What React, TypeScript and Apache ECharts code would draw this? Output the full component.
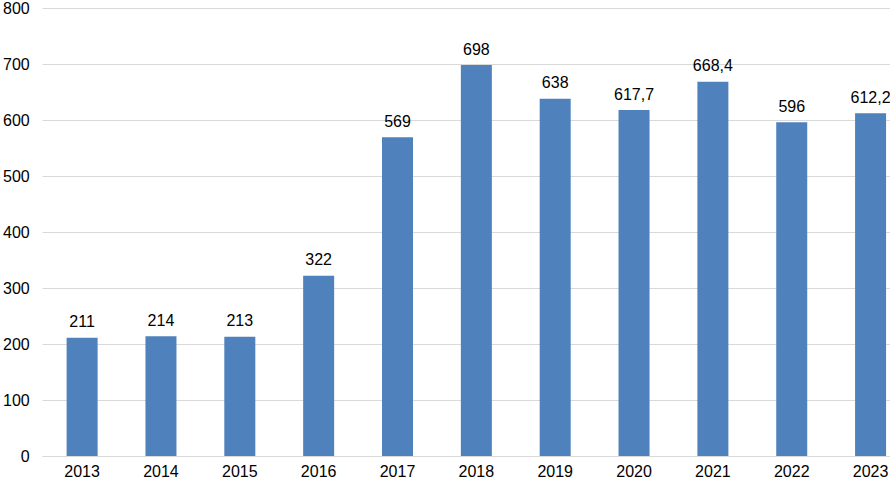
import React, { useEffect, useRef } from "react";
import * as echarts from "echarts";

const years = ["2013", "2014", "2015", "2016", "2017", "2018", "2019", "2020", "2021", "2022", "2023"];
const values = [211, 214, 213, 322, 569, 698, 638, 617.7, 668.4, 596, 612.2];

export default function App() {
  const ref = useRef<HTMLDivElement>(null);
  useEffect(() => {
    if (!ref.current) return;
    const chart = echarts.init(ref.current, undefined, { renderer: "svg" });
    chart.setOption({
      animation: false,
      textStyle: { fontFamily: "Liberation Sans, Arial, sans-serif" },
      grid: { left: 41, right: 10, top: 6, bottom: 24, containLabel: false },
      xAxis: {
        type: "category",
        data: years,
        axisLine: { lineStyle: { color: "#d9d9d9", width: 1 } },
        axisTick: { show: false },
        axisLabel: { color: "#000", fontSize: 16, margin: 7 },
      },
      yAxis: {
        type: "value",
        min: 0,
        max: 800,
        interval: 100,
        axisLine: { show: false },
        axisTick: { show: false },
        splitLine: { lineStyle: { color: "#d9d9d9", width: 1 } },
        axisLabel: { color: "#000", fontSize: 16, margin: 13 },
      },
      series: [
        {
          type: "bar",
          data: values,
          barWidth: 31,
          itemStyle: { color: "#4f81bd" },
          label: {
            show: true,
            position: "top",
            distance: 8,
            color: "#000",
            fontSize: 16,
            formatter: (p: any) => String(p.value).replace(".", ","),
          },
        },
      ],
    });
    return () => chart.dispose();
  }, []);
  return (
    <div style={{ position: "fixed", left: 0, top: 0, width: 890, height: 480, overflow: "hidden", background: "#fff" }}>
      <div ref={ref} style={{ width: 920, height: 480 }} />
    </div>
  );
}
